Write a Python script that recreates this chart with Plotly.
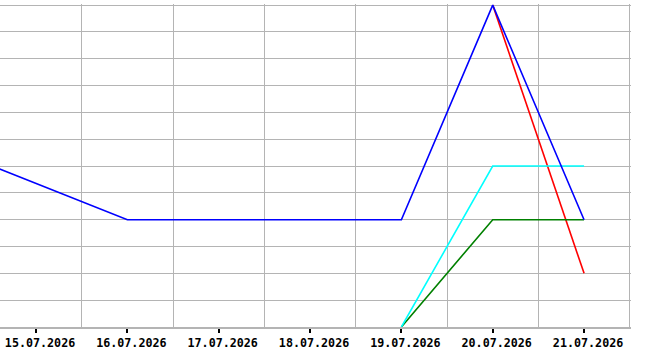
import plotly.graph_objects as go

# Data
blue_dates = ["2026-07-14", "2026-07-16", "2026-07-17", "2026-07-18", "2026-07-19", "2026-07-20", "2026-07-21"]
blue_vals = [6.7, 4, 4, 4, 4, 12, 4]
red_dates = ["2026-07-20", "2026-07-21"]
red_vals = [12, 2]
cyan_dates = ["2026-07-19", "2026-07-20", "2026-07-21"]
cyan_vals = [0, 6, 6]
green_dates = ["2026-07-19", "2026-07-20", "2026-07-21"]
green_vals = [0, 4, 4]

tick_dates = ["2026-07-15", "2026-07-16", "2026-07-17", "2026-07-18", "2026-07-19", "2026-07-20", "2026-07-21"]
tick_labels = ["15.07.2026", "16.07.2026", "17.07.2026", "18.07.2026", "19.07.2026", "20.07.2026", "21.07.2026"]
grid_dates = ["2026-07-14 12:00", "2026-07-15 12:00", "2026-07-16 12:00", "2026-07-17 12:00",
              "2026-07-18 12:00", "2026-07-19 12:00", "2026-07-20 12:00", "2026-07-21 12:00"]

fig = go.Figure()
for d, v, c in [(red_dates, red_vals, "#ff0000"),
                (green_dates, green_vals, "#008000"),
                (cyan_dates, cyan_vals, "#00ffff"),
                (blue_dates, blue_vals, "#0000ff")]:
    fig.add_trace(go.Scatter(x=d, y=v, mode="lines", line=dict(color=c, width=1.6),
                             showlegend=False, hoverinfo="skip"))

grid_col = "#b4b4b4"
fig.update_layout(
    width=670, height=350,
    margin=dict(l=0, r=39, t=4, b=21),
    paper_bgcolor="white", plot_bgcolor="white",
    xaxis=dict(
        type="date",
        range=["2026-07-14 14:32", "2026-07-21 12:20"],
        tickvals=tick_dates, ticktext=tick_labels,
        showgrid=False,
        ticks="outside", ticklen=4, tickwidth=2, tickcolor="black",
        showline=True, linecolor=grid_col, linewidth=2,
        tickfont=dict(family="DejaVu Sans Mono", size=11.7, color="black", weight="bold"),
        ticklabelshift=4,
        minor=dict(tickvals=grid_dates, showgrid=True, gridcolor=grid_col, gridwidth=1, ticks=""),
        zeroline=False,
    ),
    yaxis=dict(
        range=[0, 12.04], dtick=1, tick0=0,
        showticklabels=False, showgrid=True, gridcolor=grid_col, gridwidth=1,
        zeroline=False, ticks="",
    ),
)

fig.write_html("out.html")
